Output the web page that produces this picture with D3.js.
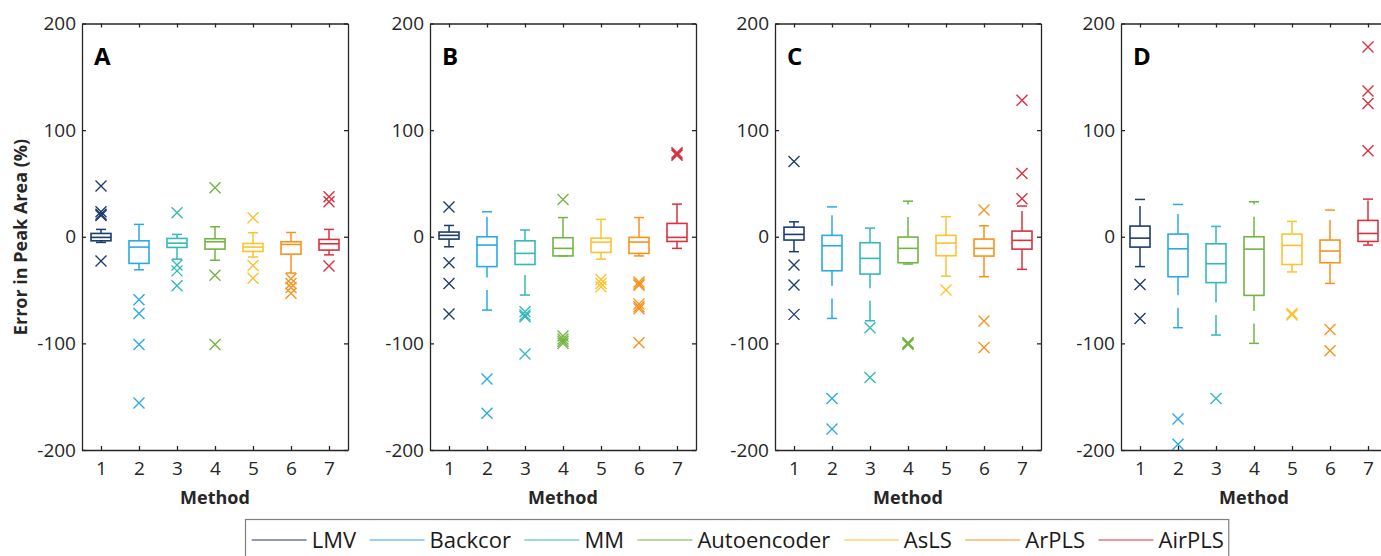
<!DOCTYPE html>
<html>
<head>
<meta charset="utf-8">
<script src="https://cdn.jsdelivr.net/npm/d3@7"></script>
<style>
  body { margin: 0; background: #fff; }
  svg { display: block; }
  text { font-family: "Open Sans", "Noto Sans", sans-serif; }
</style>
</head>
<body>
<svg id="chart" width="1381" height="556"></svg>
<script>
// Baseline-correction methods compared in each panel
const methods = [1, 2, 3, 4, 5, 6, 7];
const methodNames = ["LMV", "Backcor", "MM", "Autoencoder", "AsLS", "ArPLS", "AirPLS"];
const methodColors = ["#1d3c6e", "#2aaae2", "#36b8b8", "#73b443", "#fdc232", "#f7931e", "#d8323f"];
const panelLabels = ["A", "B", "C", "D"];
const yTickValues = [-200, -100, 0, 100, 200];

// Panel A: box statistics (error in peak area, %)
const q1A  = [-3.8, -25, -10, -11.6, -13.8, -16.3, -12.5];
const medA = [-0.6, -9.7, -6, -4.7, -9.7, -7.2, -6.6];
const q3A  = [3.1, -3.8, -1.6, -1.9, -6.3, -4.7, -2.5];
const loA  = [-5.3, -31, -21, -22, -19, -34, -17];
const hiA  = [6.9, 11.6, 2.2, 9.4, 3.8, 4, 6.9];
const outA = [[47.5, 23.4, 21, 20, -22.8], [-59, -72, -101, -156], [22.5, -26.5, -32, -46],
              [46, -36, -101], [17.8, -27, -39], [-39.4, -43.8, -47.5, -53], [37.5, 32.8, -27.5]];

// Panel B
const q1B  = [-2.2, -28, -26, -18, -14.7, -15.6, -4.4];
const medB = [1.3, -7.8, -15.6, -10.9, -5, -5, -0.6];
const q3B  = [4.4, 0, -3.8, -0.9, -1.3, -0.6, 12.5];
const loB  = [-9.4, -68.8, -54.7, -18, -21, -18, -10.9];
const hiB  = [10.6, 23.4, 6.3, 18, 16.3, 18, 30.6];
const outB = [[28, -24.4, -43.8, -72.5], [-133.4, -165.6], [-70.3, -73.4, -75, -110],
              [35, -93, -96, -98, -100], [-40, -43.8, -47],
              [-42.5, -44.4, -45.6, -63, -65.6, -67.5, -99.4], [78.8, 77.5, 76.5]];

// Panel C
const q1C  = [-3.1, -31.9, -35, -24.4, -17.8, -18.1, -11.6];
const medC = [2.2, -8.4, -20.3, -10.9, -5.9, -10.9, -3.4];
const q3C  = [9, 1.3, -5.6, -0.3, 1.3, -2.2, 5.3];
const loC  = [-14, -76.6, -78.8, -25.6, -36.9, -37.5, -30.6];
const hiC  = [14, 28, 8.1, 33.4, 18.8, 10.3, 28.8];
const outC = [[70.6, -26.5, -45.3, -72.8], [-151.6, -180.3], [-85.3, -131.9],
              [-99.4, -100, -101], [-50], [25, -79, -103.8], [128, 59.4, 35.6]];

// Panel D
const q1D  = [-9.7, -37.5, -43, -55, -26, -24.4, -4.4];
const medD = [-1.3, -11.3, -25.3, -11.6, -8.1, -13.4, 3.1];
const q3D  = [10, 2.5, -6.6, 0, 2.5, -3.1, 15.3];
const loD  = [-28, -85.3, -92.2, -100, -33, -43.8, -7.8];
const hiD  = [35, 30.3, 9.7, 32.8, 14.4, 25, 35.3];
const outD = [[-44.7, -76.6], [-171, -194.7], [-151.6], [], [-72, -73.4], [-86.9, -107],
              [178, 136.6, 125, 80.6]];

const panels = [
  { q1: q1A, med: medA, q3: q3A, lo: loA, hi: hiA, out: outA },
  { q1: q1B, med: medB, q3: q3B, lo: loB, hi: hiB, out: outB },
  { q1: q1C, med: medC, q3: q3C, lo: loC, hi: hiC, out: outC },
  { q1: q1D, med: medD, q3: q3D, lo: loD, hi: hiD, out: outD }
];

const svg = d3.select("#chart");
svg.append("rect").attr("width", 1381).attr("height", 556).attr("fill", "#fff");

const panelLeft = [82, 430, 775, 1121];
const plotTop = 23.5, plotBottom = 450, panelW = 266;
const axisColor = "#262626";
const boxW = 20, capW = 10, mk = 5.5;

const x = d3.scaleLinear().domain([0.5, 7.5]).range([0, panelW]);
const y = d3.scaleLinear().domain([-200, 200]).range([plotBottom - plotTop, 0]);
const plotH = plotBottom - plotTop;

function styleAxis(g) {
  g.select(".domain").attr("stroke", axisColor).attr("stroke-width", 1.3);
  g.selectAll(".tick line").attr("stroke", axisColor).attr("stroke-width", 1.3);
  g.selectAll(".tick text").attr("fill", axisColor).attr("font-size", 19)
    .attr("font-family", "\"Open Sans\", sans-serif");
}

panels.forEach((p, pi) => {
  const g = svg.append("g").attr("transform", `translate(${panelLeft[pi]},${plotTop})`);

  // Boxes, whiskers and outliers
  methods.forEach((m, i) => {
    const c = methodColors[i];
    const cx = x(m);
    const bg = g.append("g").attr("stroke", c).attr("fill", "none");

    // whiskers: dashed, drawn from the lower value upward
    bg.append("line").attr("x1", cx).attr("x2", cx)
      .attr("y1", y(p.lo[i])).attr("y2", y(p.q1[i]))
      .attr("stroke-width", 1.5).attr("stroke-dasharray", "20,12.5");
    bg.append("line").attr("x1", cx).attr("x2", cx)
      .attr("y1", y(p.q3[i])).attr("y2", y(p.hi[i]))
      .attr("stroke-width", 1.5).attr("stroke-dasharray", "20,12.5");
    // whisker caps
    [p.lo[i], p.hi[i]].forEach(v => {
      bg.append("line").attr("x1", cx - capW / 2).attr("x2", cx + capW / 2)
        .attr("y1", y(v)).attr("y2", y(v)).attr("stroke-width", 1.5);
    });
    // box
    bg.append("rect").attr("x", cx - boxW / 2).attr("width", boxW)
      .attr("y", y(p.q3[i])).attr("height", y(p.q1[i]) - y(p.q3[i]))
      .attr("stroke-width", 1.6);
    // median
    bg.append("line").attr("x1", cx - boxW / 2).attr("x2", cx + boxW / 2)
      .attr("y1", y(p.med[i])).attr("y2", y(p.med[i])).attr("stroke-width", 1.6);
    // outliers
    bg.selectAll("path.out").data(p.out[i]).join("path").attr("class", "out")
      .attr("transform", v => `translate(${cx},${y(v)})`)
      .attr("d", `M${-mk},${-mk}L${mk},${mk}M${-mk},${mk}L${mk},${-mk}`)
      .attr("stroke-width", 1.4);
  });

  // Axes box with inward ticks on all four sides
  g.append("g").call(d3.axisLeft(y).tickValues(yTickValues).tickSizeInner(-4)
      .tickSizeOuter(0).tickPadding(6).tickFormat(d => String(d))).call(styleAxis);
  g.append("g").attr("transform", `translate(${panelW},0)`)
    .call(d3.axisRight(y).tickValues(yTickValues).tickSizeInner(-4)
      .tickSizeOuter(0).tickFormat("")).call(styleAxis);
  g.append("g").call(d3.axisTop(x).tickValues(methods).tickSizeInner(-4)
      .tickSizeOuter(0).tickFormat("")).call(styleAxis);
  g.append("g").attr("transform", `translate(0,${plotH})`)
    .call(d3.axisBottom(x).tickValues(methods).tickSizeInner(-4)
      .tickSizeOuter(0).tickPadding(12).tickFormat(d => String(d))).call(styleAxis);

  // Panel letter
  g.append("text").attr("x", 12).attr("y", 65 - plotTop)
    .attr("font-size", 24).attr("font-weight", 700).attr("fill", "#000")
    .text(panelLabels[pi]);

  // X axis title
  g.append("text").attr("x", panelW / 2).attr("y", 504 - plotTop)
    .attr("text-anchor", "middle").attr("font-size", 18).attr("font-weight", 700)
    .attr("fill", axisColor).text("Method");
});

// Y axis title
svg.append("text").attr("transform", "translate(27,237) rotate(-90)")
  .attr("text-anchor", "middle").attr("font-size", 18).attr("font-weight", 700)
  .attr("fill", axisColor).text("Error in Peak Area (%)");

// Legend
const lg = svg.append("g");
let lx = 251.7;
const lineLen = 55, lineY = 540, textGap = 5, itemGap = 13.5;
methodNames.forEach((name, i) => {
  lg.append("line").attr("x1", lx).attr("x2", lx + lineLen)
    .attr("y1", lineY).attr("y2", lineY)
    .attr("stroke", methodColors[i]).attr("stroke-width", 1.2);
  const t = lg.append("text").attr("x", lx + lineLen + textGap).attr("y", 548)
    .attr("font-size", 22).attr("fill", "#1a1a1a").text(name);
  lx += lineLen + textGap + t.node().getComputedTextLength() + itemGap;
});
lg.insert("rect", ":first-child").attr("x", 245.5).attr("y", 519.5)
  .attr("width", lx - itemGap + 5 - 245.5).attr("height", 50)
  .attr("fill", "#fff").attr("stroke", "#7f7f7f").attr("stroke-width", 1.2);
</script>
</body>
</html>
